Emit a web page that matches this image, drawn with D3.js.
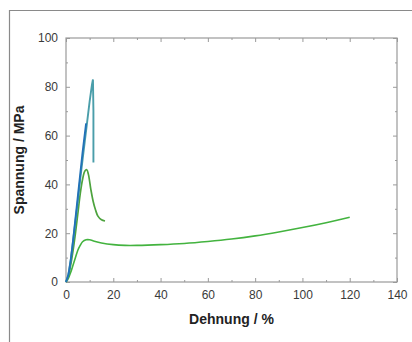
<!DOCTYPE html>
<html>
<head>
<meta charset="utf-8">
<script src="https://cdn.jsdelivr.net/npm/d3@7"></script>
<style>
  body { margin: 0; background: #fff; }
  svg { display: block; font-family: "Liberation Sans", Arial, sans-serif; }
</style>
</head>
<body>
<div id="chart"></div>
<script>
// Curves: [Dehnung %, Spannung MPa]
const curveTeal = [[0,0],[1,3],[2,9],[3,17],[4,25],[5,33],[6,42],[7,50],[8,58],[9,66],[10,74],[11,81],[11.4,83],[11.6,70],[11.6,49]];
const curveBlue = [[0,0],[1,3],[2,9],[3,17],[4,26],[5,35],[6,44],[7,53],[8,61],[8.5,65]];
const curveGreen = [[0,0],[1,2.5],[2,7],[3,13],[4,20],[5,28],[6,36],[7,42],[8,45.5],[8.8,46],[9.5,44],[10.5,38],[11.5,33],[12.5,29.5],[13.5,27],[15,25.5],[16.5,25]];
const curveLight = [[0,0],[1,1.5],[2,4],[3,7],[4,10],[5,13],[6,15],[7,16.5],[8.5,17.3],[10,17.3],[12,16.7],[15,16],[20,15.3],[25,15],[30,15],[40,15.3],[50,15.8],[60,16.6],[70,17.6],[80,18.9],[90,20.5],[100,22.3],[110,24.3],[120,26.5]];

const xTicks = [0, 20, 40, 60, 80, 100, 120, 140];
const yTicks = [0, 20, 40, 60, 80, 100];

const width = 412, height = 342;
const margin = { left: 66, right: 15, top: 38, bottom: 60 };

const svg = d3.select("#chart").append("svg")
  .attr("width", width)
  .attr("height", height);

// outer frame (top and left edges visible)
svg.append("path")
  .attr("d", `M9.5,${height} V10.5 H${width}`)
  .attr("fill", "none")
  .attr("stroke", "#8a8a8a")
  .attr("stroke-width", 1.2);

const x = d3.scaleLinear().domain([0, 140]).range([margin.left, width - margin.right]);
const y = d3.scaleLinear().domain([0, 100]).range([height - margin.bottom, margin.top]);

const axisColor = "#9a9a9a";

function styleAxis(g, showLabels) {
  g.select(".domain").remove();
  g.selectAll(".tick line").attr("stroke", axisColor);
  g.selectAll(".tick text")
    .attr("fill", "#3a3a3a")
    .attr("font-size", "12px")
    .style("display", showLabels ? null : "none");
}

// minor ticks
const xMinor = d3.range(10, 140, 20);
const yMinor = d3.range(10, 100, 20);

svg.append("g").attr("transform", `translate(0,${y(0)})`)
  .call(d3.axisBottom(x).tickValues(xTicks).tickSizeInner(-4).tickSizeOuter(0).tickPadding(8))
  .call(g => styleAxis(g, true));
svg.append("g").attr("transform", `translate(0,${y(0)})`)
  .call(d3.axisBottom(x).tickValues(xMinor).tickSizeInner(-2).tickSizeOuter(0).tickFormat(""))
  .call(g => styleAxis(g, false));
svg.append("g").attr("transform", `translate(0,${y(100)})`)
  .call(d3.axisTop(x).tickValues(xTicks).tickSizeInner(-4).tickSizeOuter(0).tickFormat(""))
  .call(g => styleAxis(g, false));
svg.append("g").attr("transform", `translate(0,${y(100)})`)
  .call(d3.axisTop(x).tickValues(xMinor).tickSizeInner(-2).tickSizeOuter(0).tickFormat(""))
  .call(g => styleAxis(g, false));

svg.append("g").attr("transform", `translate(${x(0)},0)`)
  .call(d3.axisLeft(y).tickValues(yTicks).tickSizeInner(-4).tickSizeOuter(0).tickPadding(8))
  .call(g => styleAxis(g, true));
svg.append("g").attr("transform", `translate(${x(0)},0)`)
  .call(d3.axisLeft(y).tickValues(yMinor).tickSizeInner(-2).tickSizeOuter(0).tickFormat(""))
  .call(g => styleAxis(g, false));
svg.append("g").attr("transform", `translate(${x(140)},0)`)
  .call(d3.axisRight(y).tickValues(yTicks).tickSizeInner(-4).tickSizeOuter(0).tickFormat(""))
  .call(g => styleAxis(g, false));
svg.append("g").attr("transform", `translate(${x(140)},0)`)
  .call(d3.axisRight(y).tickValues(yMinor).tickSizeInner(-2).tickSizeOuter(0).tickFormat(""))
  .call(g => styleAxis(g, false));

// plot box
svg.append("rect")
  .attr("x", x(0))
  .attr("y", y(100))
  .attr("width", x(140) - x(0))
  .attr("height", y(0) - y(100))
  .attr("fill", "none")
  .attr("stroke", axisColor)
  .attr("stroke-width", 1.2);

const smooth = d3.line().x(d => x(d[0])).y(d => y(d[1])).curve(d3.curveCatmullRom);
const straight = d3.line().x(d => x(d[0])).y(d => y(d[1]));

svg.append("path").datum(curveLight)
  .attr("d", smooth).attr("fill", "none").attr("stroke", "#43b33f").attr("stroke-width", 1.6);
svg.append("path").datum(curveGreen)
  .attr("d", smooth).attr("fill", "none").attr("stroke", "#4da33e").attr("stroke-width", 1.7);
svg.append("path").datum(curveTeal)
  .attr("d", straight).attr("fill", "none").attr("stroke", "#4a9eaa").attr("stroke-width", 1.9);
svg.append("path").datum(curveBlue)
  .attr("d", smooth).attr("fill", "none").attr("stroke", "#2272b8").attr("stroke-width", 1.9);

// axis titles
svg.append("text")
  .attr("x", (x(0) + x(140)) / 2)
  .attr("y", 324)
  .attr("text-anchor", "middle")
  .attr("font-size", "14px")
  .attr("font-weight", "bold")
  .attr("fill", "#222")
  .text("Dehnung / %");

svg.append("text")
  .attr("transform", `translate(24,${(y(0) + y(100)) / 2}) rotate(-90)`)
  .attr("text-anchor", "middle")
  .attr("font-size", "14px")
  .attr("font-weight", "bold")
  .attr("fill", "#222")
  .text("Spannung / MPa");
</script>
</body>
</html>
